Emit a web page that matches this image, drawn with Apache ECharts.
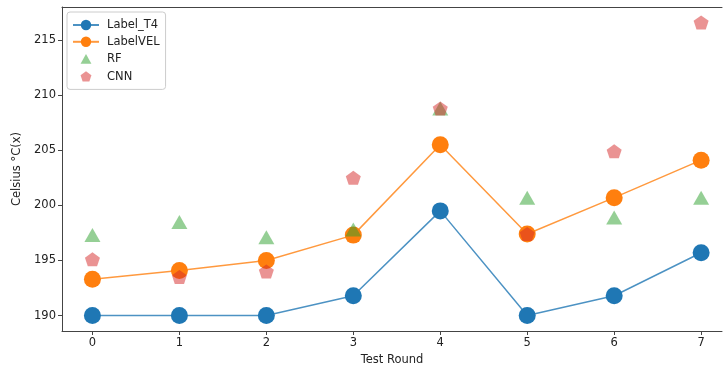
<!DOCTYPE html>
<html><head><meta charset="utf-8">
<script src="https://cdn.jsdelivr.net/npm/echarts@6/dist/echarts.min.js"></script>
<style>html,body{margin:0;padding:0;background:#fff}#c{width:723px;height:371px}</style>
</head><body><div id="c"></div>
<script>
const rounds = [0, 1, 2, 3, 4, 5, 6, 7];
const labelT4 = [190, 190, 190, 191.8, 199.5, 190, 191.8, 195.7];
const labelVEL = [193.3, 194.1, 195.0, 197.3, 205.5, 197.4, 200.7, 204.1];
const rf = [197.3, 198.5, 197.1, 197.8, 208.8, 200.7, 198.9, 200.7];
const cnn = [195.1, 193.5, 194.0, 202.5, 208.8, 197.4, 204.9, 216.6];
const yTicks = [190, 195, 200, 205, 210, 215];
const xTicks = [0, 1, 2, 3, 4, 5, 6, 7];

const pent = 'path://M0,-1 L0.951,-0.309 L0.588,0.809 L-0.588,0.809 L-0.951,-0.309 Z';
const legTri = 'path://M-2.2,1.2 M2.2,-1.2 M-1,0.85 L0,-0.95 L1,0.85 Z';
const legPent = 'path://M-2.2,1.2 M2.2,-1.2 M0,-1.05 L1,-0.32 L0.62,0.85 L-0.62,0.85 L-1,-0.32 Z';
const pair = arr => rounds.map((r, i) => [r, arr[i]]);
const font = 'DejaVu Sans';
const axisText = {fontFamily: font, fontSize: 11.5, color: '#222'};

const chart = echarts.init(document.getElementById('c'), null, {renderer: 'canvas'});
chart.setOption({
  animation: false,
  backgroundColor: '#fff',
  textStyle: {fontFamily: font},
  grid: {left: 62, top: 7, right: 1, bottom: 38, show: false},
  legend: {
    orient: 'vertical', left: 67, top: 12,
    padding: [7, 6, 6, 5], itemGap: 4.8, itemWidth: 26, itemHeight: 13,
    borderColor: '#ccc', borderWidth: 1, borderRadius: 3, backgroundColor: '#fff',
    textStyle: {fontFamily: font, fontSize: 11.5, color: '#222', padding: [0, 0, 0, 3]},
    data: ['Label_T4', 'LabelVEL', {name: 'RF', icon: legTri}, {name: 'CNN', icon: legPent}]
  },
  xAxis: [{
    type: 'value', min: -0.35, max: 7.24,
    name: 'Test Round', nameLocation: 'middle', nameGap: 23,
    nameTextStyle: axisText,
    axisLine: {show: true, onZero: false, lineStyle: {color: '#444'}},
    axisTick: {show: true, length: 4, customValues: xTicks, lineStyle: {color: '#444'}},
    axisLabel: Object.assign({customValues: xTicks, margin: 6}, axisText),
    splitLine: {show: false}
  }, {
    type: 'value', position: 'top', min: -0.35, max: 7.24,
    axisLine: {show: true, onZero: false, lineStyle: {color: '#444'}},
    axisTick: {show: false}, axisLabel: {show: false}, splitLine: {show: false}
  }],
  yAxis: {
    type: 'value', min: 188.6, max: 218.0,
    name: 'Celsius °C(x)', nameLocation: 'middle', nameGap: 33,
    nameTextStyle: axisText,
    axisLine: {show: true, onZero: false, lineStyle: {color: '#444'}},
    axisTick: {show: true, length: 4, customValues: yTicks, lineStyle: {color: '#444'}},
    axisLabel: Object.assign({customValues: yTicks, margin: 6}, axisText),
    splitLine: {show: false}
  },
  series: [
    {name: 'Label_T4', type: 'line', data: pair(labelT4), symbol: 'circle', symbolSize: 17,
     itemStyle: {color: '#1f77b4'}, lineStyle: {color: '#1f77b4', width: 1.5, opacity: 0.8}, z: 2},
    {name: 'LabelVEL', type: 'line', data: pair(labelVEL), symbol: 'circle', symbolSize: 17,
     itemStyle: {color: '#ff7f0e'}, lineStyle: {color: '#ff7f0e', width: 1.5, opacity: 0.8}, z: 3},
    {name: 'RF', type: 'scatter', data: pair(rf), symbol: 'triangle', symbolSize: [16, 14],
     itemStyle: {color: '#2ca02c', opacity: 0.5}, z: 4},
    {name: 'CNN', type: 'scatter', data: pair(cnn), symbol: pent, symbolSize: [15, 14],
     itemStyle: {color: '#d62728', opacity: 0.5}, z: 5}
  ]
});
</script></body></html>
